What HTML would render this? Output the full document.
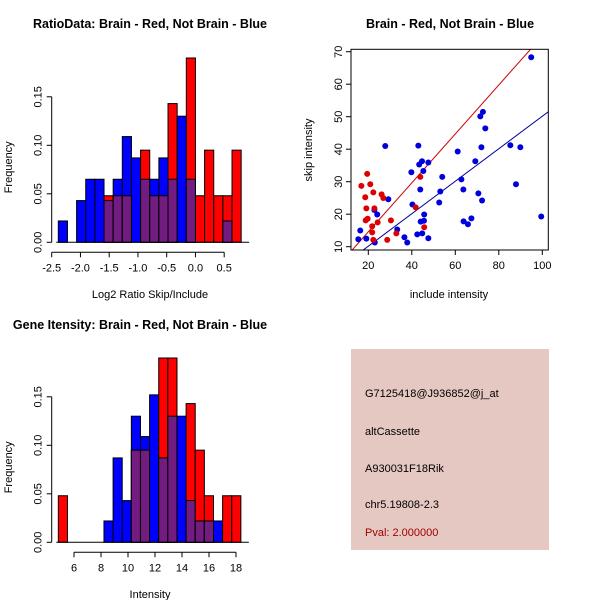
<!DOCTYPE html>
<html><head><meta charset="utf-8"><style>
body{margin:0;background:#fff;}
svg{display:block;font-family:"Liberation Sans",sans-serif;}
</style></head><body>
<svg id="c" width="600" height="600" xmlns="http://www.w3.org/2000/svg">
<rect width="600" height="600" fill="#fff"/>
<text x="150" y="28" font-size="12.5" font-weight="bold" text-anchor="middle">RatioData: Brain - Red, Not Brain - Blue</text>
<text x="450" y="28" font-size="12.5" font-weight="bold" text-anchor="middle">Brain - Red, Not Brain - Blue</text>
<text x="140" y="329" font-size="12.5" font-weight="bold" text-anchor="middle">Gene Itensity: Brain - Red, Not Brain - Blue</text>
<rect x="351" y="349" width="198" height="201" fill="#e6c8c2"/>
<g font-size="11">
<text x="365" y="397">G7125418@J936852@j_at</text>
<text x="365" y="435">altCassette</text>
<text x="365" y="472">A930031F18Rik</text>
<text x="365" y="508">chr5.19808-2.3</text>
<text x="365" y="536" fill="#a00000">Pval: 2.000000</text>
</g>
</svg>
<script>
// ---- Ratio histogram data ----
const ratioStart = -2.385, ratioBinW = 0.159;
const ratioBlue = [0.022,0,0.043,0.065,0.065,0.043,0.065,0.109,0.087,0.065,0.065,0.087,0.065,0.130,0.065,0,0,0,0.022,0];
const ratioRed  = [0,0,0,0,0,0.048,0.048,0.048,0,0.095,0.048,0.048,0.143,0,0.19,0.048,0.095,0.048,0.048,0.095];
const ratioXTicks = [-2.5,-2.0,-1.5,-1.0,-0.5,0.0,0.5];
const ratioXLabels = ["-2.5","-2.0","-1.5","-1.0","-0.5","0.0","0.5"];
const freqTicks = [0,0.05,0.10,0.15];
const freqLabels = ["0.00","0.05","0.10","0.15"];
// ---- Intensity histogram data ----
const intStart = 4.84, intBinW = 0.676;
const intBlue = [0,0,0,0,0,0.022,0.087,0.043,0.130,0.109,0.152,0.087,0.130,0.130,0.043,0.022,0.022,0.022,0,0];
const intRed  = [0.048,0,0,0,0,0,0,0,0.095,0.095,0,0.19,0.19,0,0.143,0.095,0.048,0,0.048,0.048];
const intXTicks = [6,8,10,12,14,16,18];
// ---- Scatter data ----
const redX = [16.8,19.5,20.9,18.6,19.1,18.8,19.7,22.3,22.8,21.8,21.8,22.3,24.3,26.1,26.9,30.4,28.7,32.9,41.8,43.9,45.7];
const redY = [28.7,32.4,29.2,25.2,21.8,18.1,18.6,26.7,21.8,16.3,14.4,12.1,17.5,26.1,25.0,18.1,12.1,14.1,22.1,31.5,16.0];
const blueX = [15.4,16.3,19.1,22.8,23.0,24.1,27.8,29.2,33.3,36.6,37.9,39.8,40.3,42.5,43.0,43.4,43.9,44.1,44.7,44.8,45.3,45.6,45.7,47.6,47.6,52.6,53.1,54.0,61.1,62.8,63.7,63.8,65.8,67.4,69.2,70.6,71.5,72.0,72.3,72.7,73.8,85.3,87.9,89.9,94.9,99.5];
const blueY = [12.3,15.0,12.5,21.3,11.3,19.9,41.0,24.6,15.3,12.9,11.3,32.9,23.0,13.8,41.1,35.3,27.6,17.7,36.3,14.1,33.3,18.0,19.9,35.9,12.6,23.6,27.0,31.5,39.3,30.7,27.6,17.8,16.9,18.7,36.3,26.4,50.1,40.6,24.2,51.5,46.4,41.2,29.2,40.6,68.3,19.3];
const redFit = [-0.49, 0.753];
const blueFit = [0.15, 0.5];
const scXTicks = [20,40,60,80,100];
const scYTicks = [10,20,30,40,50,60,70];

const NS = "http://www.w3.org/2000/svg";
const svg = document.getElementById('c');
function mk(tag, attrs, parent){const e=document.createElementNS(NS,tag);for(const k in attrs)e.setAttribute(k,attrs[k]);(parent||svg).appendChild(e);return e;}
function txt(s,attrs,parent){const e=mk('text',attrs,parent);e.textContent=s;return e;}

function histogram(name, start, bw, blue, red, xTicks, xLabels, xs, x0px, base, ppu, xTitle, titleY){
  const g = mk('g',{});
  
  
  const X = v => x0px + (v - xTicks[0]) * xs;
  const Y = f => base - f * ppu;
  for(let i=0;i<blue.length;i++){
    const l = X(start+i*bw), r = X(start+(i+1)*bw);
    const b = blue[i], rd = red[i];
    const m = Math.min(b, rd);
    if(b>0){const e=mk('rect',{x:l,y:Y(b),width:r-l,height:b*ppu,fill:'#0000ff',stroke:'#000','stroke-width':1},g);
      
      }
    if(rd>0){const e=mk('rect',{x:l,y:Y(rd),width:r-l,height:rd*ppu,fill:'#ff0000',stroke:'#000','stroke-width':1},g);
      
      }
    if(m>0){const e=mk('rect',{x:l,y:Y(m),width:r-l,height:m*ppu,fill:'#721c82',stroke:'#000','stroke-width':1},g);
      
      }
  }
  mk('line',{x1:X(start)-2,x2:X(start+blue.length*bw)+8,y1:base,y2:base,stroke:'#000'},g);
  const ax = base+10;
  mk('line',{x1:X(xTicks[0]),x2:X(xTicks[xTicks.length-1]),y1:ax,y2:ax,stroke:'#000'},g);
  xTicks.forEach((t,i)=>{mk('line',{x1:X(t),x2:X(t),y1:ax,y2:ax+5,stroke:'#000'},g);
    txt(xLabels[i],{x:X(t),y:ax+19,'font-size':11,'text-anchor':'middle'},g);});
  txt(xTitle,{x:150,y:titleY,'font-size':11,'text-anchor':'middle'},g);
  const yx = 51.7;
  mk('line',{x1:yx,x2:yx,y1:Y(0),y2:Y(0.15),stroke:'#000'},g);
  freqTicks.forEach((t,i)=>{mk('line',{x1:yx,x2:yx-5,y1:Y(t),y2:Y(t),stroke:'#000'},g);
    txt(freqLabels[i],{x:0,y:0,'font-size':11,'text-anchor':'middle',transform:`translate(${yx-10},${Y(t)}) rotate(-90)`},g);});
  txt('Frequency',{x:0,y:0,'font-size':11,'text-anchor':'middle',transform:`translate(12,${base-75}) rotate(-90)`},g);
}
histogram('ratio-histogram', ratioStart, ratioBinW, ratioBlue, ratioRed, ratioXTicks, ratioXLabels, 57.5, 51.7, 242.3, 970, 'Log2 Ratio Skip/Include', 298);
histogram('intensity-histogram', intStart, intBinW, intBlue, intRed, intXTicks, intXTicks.map(String), 13.5, 74, 542.3, 970, 'Intensity', 598);

(function(){
  const g = mk('g',{});
  
  
  const L=351,R=548.3,T=49.3,B=250;
  const X = v => 368.3 + (v-20)*2.175;
  const Y = v => 246.7 - (v-10)*3.25;
  const cp = mk('clipPath',{id:'sc'},g); mk('rect',{x:L,y:T,width:R-L,height:B-T},cp);
  const ln = (fit,col,name)=>{const x1=0,x2=120;
    const e=mk('line',{x1:X(x1),y1:Y(fit[0]+fit[1]*x1),x2:X(x2),y2:Y(fit[0]+fit[1]*x2),stroke:col,'clip-path':'url(#sc)'},g);
    
    };
  ln(redFit,'#cc0000','red-fit-line');
  ln(blueFit,'#000099','blue-fit-line');
  blueX.forEach((x,i)=>{const e=mk('circle',{cx:X(x),cy:Y(blueY[i]),r:3,fill:'#0000dd'},g);
    
    });
  redX.forEach((x,i)=>{const e=mk('circle',{cx:X(x),cy:Y(redY[i]),r:3,fill:'#dd0000'},g);
    
    });
  mk('rect',{x:L,y:T,width:R-L,height:B-T,fill:'none',stroke:'#000'},g);
  scXTicks.forEach(t=>{mk('line',{x1:X(t),x2:X(t),y1:B,y2:B+5,stroke:'#000'},g);
    txt(String(t),{x:X(t),y:B+19,'font-size':11,'text-anchor':'middle'},g);});
  scYTicks.forEach(t=>{mk('line',{x1:L,x2:L-5,y1:Y(t),y2:Y(t),stroke:'#000'},g);
    txt(String(t),{x:0,y:0,'font-size':11,'text-anchor':'middle',transform:`translate(${L-9},${Y(t)}) rotate(-90)`},g);});
  txt('include intensity',{x:449,y:298,'font-size':11,'text-anchor':'middle'},g);
  txt('skip intensity',{x:0,y:0,'font-size':11,'text-anchor':'middle',transform:`translate(312,150) rotate(-90)`},g);
})();
</script>
</body></html>
